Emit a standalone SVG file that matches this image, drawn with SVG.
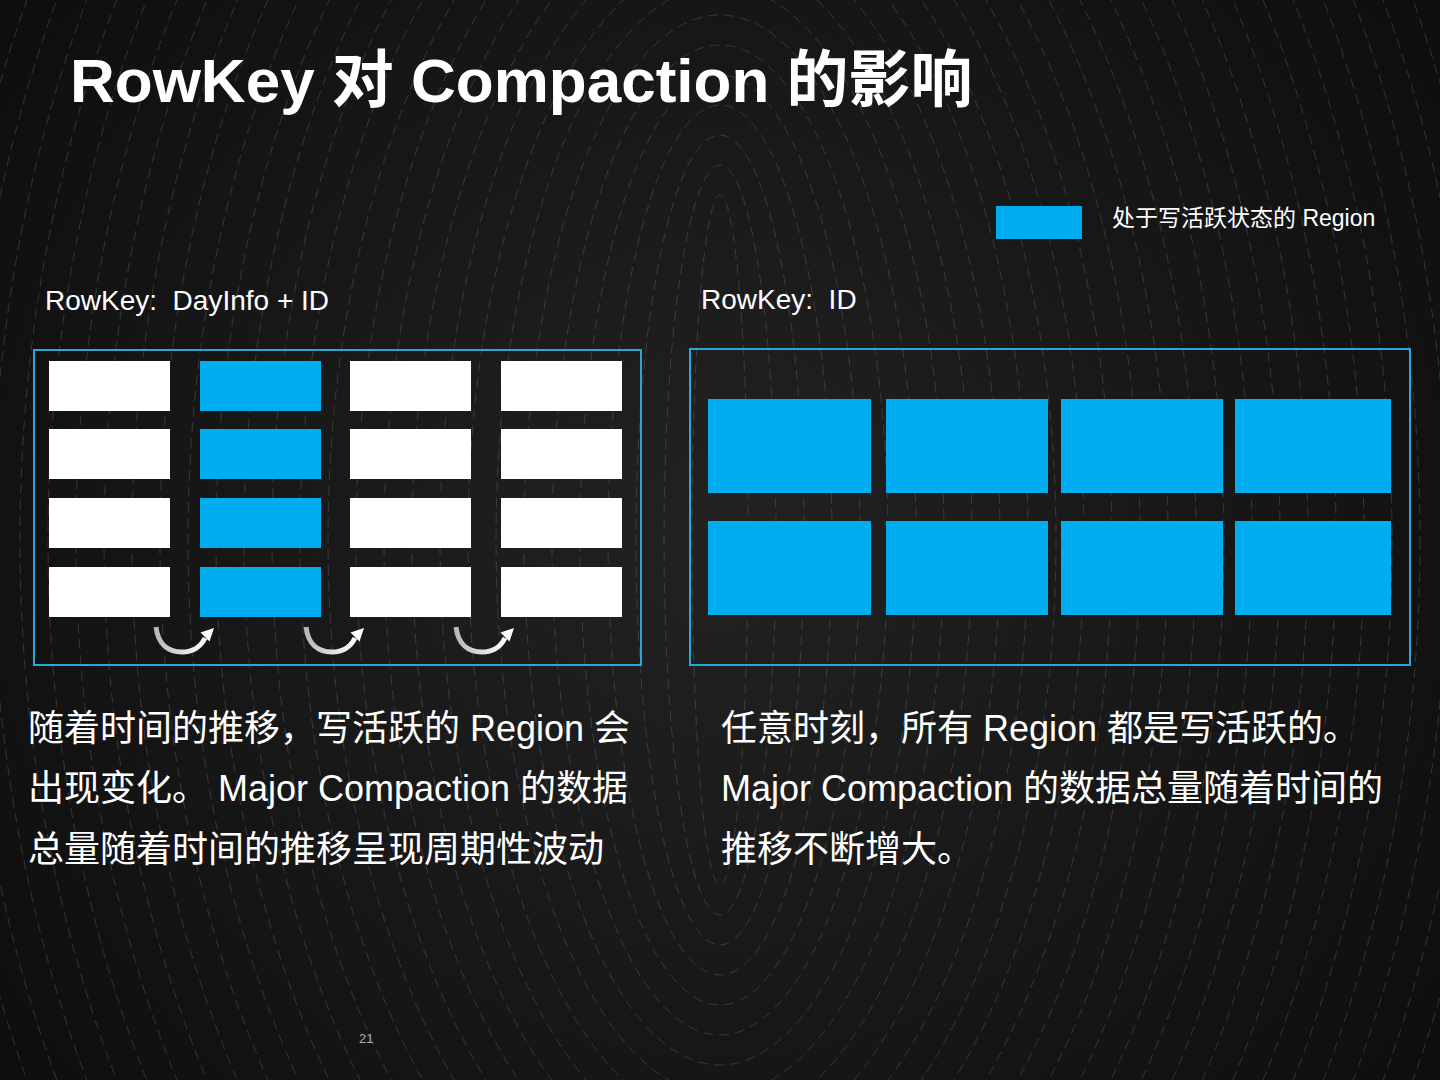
<svg xmlns="http://www.w3.org/2000/svg" width="1440" height="1080" viewBox="0 0 1440 1080">
<defs>
<radialGradient id="bg" cx="720" cy="540" r="900" gradientUnits="userSpaceOnUse">
<stop offset="0" stop-color="#222222"/>
<stop offset="1" stop-color="#0e0e0e"/>
</radialGradient>
<linearGradient id="arrowGrad" x1="0" y1="0" x2="1" y2="0">
<stop offset="0" stop-color="#b8b8b8"/>
<stop offset="1" stop-color="#ffffff"/>
</linearGradient>
<g id="curveArrow">
<path d="M156,627 C158,644 168,652 182,652 C194,652 201,646 205,638" fill="none" stroke="url(#arrowGrad)" stroke-width="5"/>
<polygon points="214,628 200.5,632.5 209.5,641.5" fill="#ffffff"/>
</g>
</defs>
<style>
.ring{fill:none;stroke:#7a7a7a;stroke-opacity:0.38;stroke-width:0.9;stroke-dasharray:10 6}
.white{fill:#ffffff}
.blue{fill:#00AEEF}
.panel{fill:none;stroke:#2AA6DF;stroke-width:2}
.title{font-family:"Liberation Sans","Noto Sans CJK SC",sans-serif;font-weight:bold;font-size:62px;fill:#ffffff}
.label{font-family:"Liberation Sans","Noto Sans CJK SC",sans-serif;font-size:28px;fill:#ffffff;white-space:pre}
.legend{font-family:"Liberation Sans","Noto Sans CJK SC",sans-serif;font-size:23px;fill:#ffffff}
.body{font-family:"Liberation Sans","Noto Sans CJK SC",sans-serif;font-size:36px;fill:#ffffff}
.page{font-family:"Liberation Sans",sans-serif;font-size:13px;fill:#b0b0b0}
</style>
<rect x="0" y="0" width="1440" height="1080" fill="url(#bg)"/>
<g id="background-rings">
<ellipse class="ring" cx="720" cy="540" rx="28" ry="345"/>
<ellipse class="ring" cx="720" cy="540" rx="56" ry="375"/>
<ellipse class="ring" cx="720" cy="540" rx="84" ry="405"/>
<ellipse class="ring" cx="720" cy="540" rx="112" ry="435"/>
<ellipse class="ring" cx="720" cy="540" rx="140" ry="465"/>
<ellipse class="ring" cx="720" cy="540" rx="168" ry="495"/>
<ellipse class="ring" cx="720" cy="540" rx="196" ry="525"/>
<ellipse class="ring" cx="720" cy="540" rx="224" ry="555"/>
<ellipse class="ring" cx="720" cy="540" rx="252" ry="585"/>
<ellipse class="ring" cx="720" cy="540" rx="280" ry="615"/>
<ellipse class="ring" cx="720" cy="540" rx="308" ry="645"/>
<ellipse class="ring" cx="720" cy="540" rx="336" ry="675"/>
<ellipse class="ring" cx="720" cy="540" rx="364" ry="705"/>
<ellipse class="ring" cx="720" cy="540" rx="392" ry="735"/>
<ellipse class="ring" cx="720" cy="540" rx="420" ry="765"/>
<ellipse class="ring" cx="720" cy="540" rx="448" ry="795"/>
<ellipse class="ring" cx="720" cy="540" rx="476" ry="825"/>
<ellipse class="ring" cx="720" cy="540" rx="504" ry="855"/>
<ellipse class="ring" cx="720" cy="540" rx="532" ry="885"/>
<ellipse class="ring" cx="720" cy="540" rx="560" ry="915"/>
<ellipse class="ring" cx="720" cy="540" rx="588" ry="945"/>
<ellipse class="ring" cx="720" cy="540" rx="616" ry="975"/>
<ellipse class="ring" cx="720" cy="540" rx="644" ry="1005"/>
<ellipse class="ring" cx="720" cy="540" rx="672" ry="1035"/>
<ellipse class="ring" cx="720" cy="540" rx="700" ry="1065"/>
<ellipse class="ring" cx="720" cy="540" rx="728" ry="1095"/>
<ellipse class="ring" cx="720" cy="540" rx="756" ry="1125"/>
<ellipse class="ring" cx="720" cy="540" rx="784" ry="1155"/>
<ellipse class="ring" cx="720" cy="540" rx="812" ry="1185"/>
<ellipse class="ring" cx="720" cy="540" rx="840" ry="1215"/>
<ellipse class="ring" cx="720" cy="540" rx="868" ry="1245"/>
<ellipse class="ring" cx="720" cy="540" rx="896" ry="1275"/>
<ellipse class="ring" cx="720" cy="540" rx="924" ry="1305"/>
<ellipse class="ring" cx="720" cy="540" rx="952" ry="1335"/>
<ellipse class="ring" cx="720" cy="540" rx="980" ry="1365"/>
<ellipse class="ring" cx="720" cy="540" rx="1008" ry="1395"/>
<ellipse class="ring" cx="720" cy="540" rx="1036" ry="1425"/>
<ellipse class="ring" cx="720" cy="540" rx="1064" ry="1455"/>
</g>
<g id="title">
<text class="title" x="70" y="102">RowKey 对 Compaction 的影响</text>
</g>
<g id="legend">
<rect class="blue" x="996" y="206" width="86" height="33"/>
<text class="legend" x="1112" y="226">处于写活跃状态的 Region</text>
</g>
<g id="left-panel">
<text class="label" x="45" y="310">RowKey:&#160; DayInfo + ID</text>
<rect class="panel" x="34" y="350" width="607" height="315"/>
<rect class="white" x="49" y="361" width="121" height="50"/>
<rect class="white" x="49" y="429" width="121" height="50"/>
<rect class="white" x="49" y="498" width="121" height="50"/>
<rect class="white" x="49" y="567" width="121" height="50"/>
<rect class="blue" x="200" y="361" width="121" height="50"/>
<rect class="blue" x="200" y="429" width="121" height="50"/>
<rect class="blue" x="200" y="498" width="121" height="50"/>
<rect class="blue" x="200" y="567" width="121" height="50"/>
<rect class="white" x="350" y="361" width="121" height="50"/>
<rect class="white" x="350" y="429" width="121" height="50"/>
<rect class="white" x="350" y="498" width="121" height="50"/>
<rect class="white" x="350" y="567" width="121" height="50"/>
<rect class="white" x="501" y="361" width="121" height="50"/>
<rect class="white" x="501" y="429" width="121" height="50"/>
<rect class="white" x="501" y="498" width="121" height="50"/>
<rect class="white" x="501" y="567" width="121" height="50"/>
</g>
<g id="connectors">
<use href="#curveArrow"/>
<use href="#curveArrow" transform="translate(150,0)"/>
<use href="#curveArrow" transform="translate(300,0)"/>
</g>
<g id="right-panel">
<text class="label" x="701" y="309">RowKey:&#160; ID</text>
<rect class="panel" x="690" y="349" width="720" height="316"/>
<rect class="blue" x="708" y="399" width="163" height="94"/>
<rect class="blue" x="886" y="399" width="162" height="94"/>
<rect class="blue" x="1061" y="399" width="162" height="94"/>
<rect class="blue" x="1235" y="399" width="156" height="94"/>
<rect class="blue" x="708" y="521" width="163" height="94"/>
<rect class="blue" x="886" y="521" width="162" height="94"/>
<rect class="blue" x="1061" y="521" width="162" height="94"/>
<rect class="blue" x="1235" y="521" width="156" height="94"/>
</g>
<g id="left-text">
<text class="body" x="28" y="741">随着时间的推移，写活跃的 Region 会</text>
<text class="body" x="28" y="801">出现变化。 Major Compaction 的数据</text>
<text class="body" x="28" y="862">总量随着时间的推移呈现周期性波动</text>
</g>
<g id="right-text">
<text class="body" x="721" y="741">任意时刻，所有 Region 都是写活跃的。</text>
<text class="body" x="721" y="801">Major Compaction 的数据总量随着时间的</text>
<text class="body" x="721" y="862">推移不断增大。</text>
</g>
<text class="page" x="359" y="1043">21</text>
</svg>
